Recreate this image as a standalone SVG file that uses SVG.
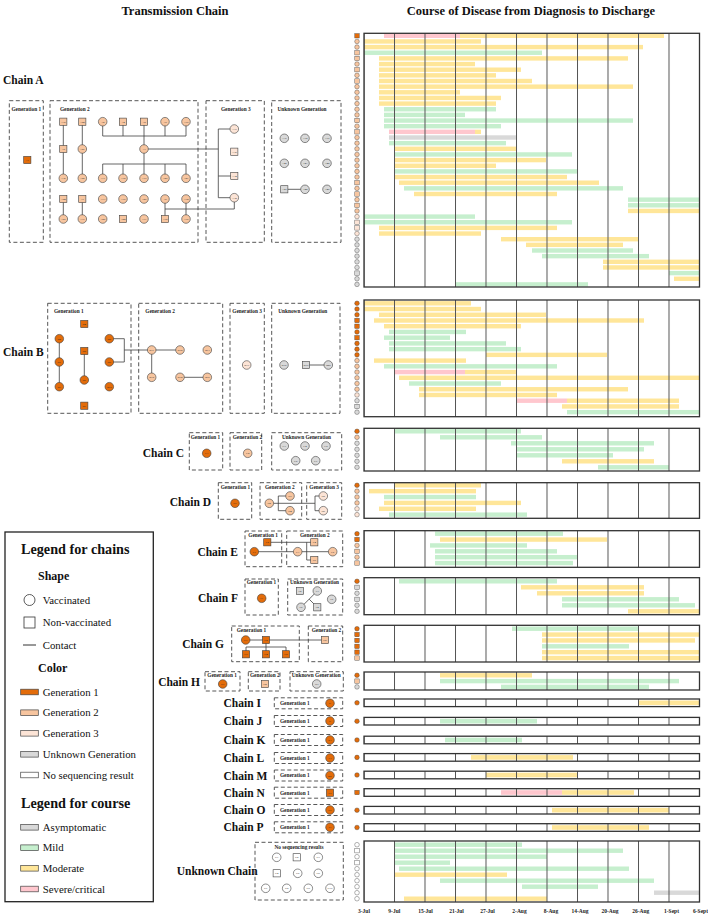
<svg xmlns="http://www.w3.org/2000/svg" xmlns:xlink="http://www.w3.org/1999/xlink" width="708" height="916" viewBox="0 0 708 916">
<style>
.t{font-family:"Liberation Serif","Times New Roman",serif;font-weight:bold;fill:#111}
.h{font-size:12.5px}
.ch{font-size:11.5px}
.gl{font-family:"Liberation Serif",serif;font-weight:bold;font-size:5.3px;fill:#222}
.nl{font-family:"Liberation Serif",serif;font-size:2.9px;text-anchor:middle;dominant-baseline:central;fill:#222;stroke:none}
.box{fill:none;stroke:#444;stroke-width:0.9;stroke-dasharray:4 2.5}
.c1{fill:#E36C0A}.c2{fill:#F7C59F}.c3{fill:#FCE4D6}.cu{fill:#D9D9D9}.cw{fill:#fff}
.n{stroke:#404040;stroke-width:0.6}
.ln{stroke:#404040;stroke-width:0.8;fill:none}
.pb{fill:#fff}
.pg{fill:url(#grid);stroke:#333;stroke-width:1.3}
.gm{fill:#C6EFCE}.ym{fill:#FFE699}.pk{fill:#FFC7CE}.as{fill:#D9D9D9}
.d{font-family:"Liberation Serif",serif;font-weight:bold;font-size:5.5px;text-anchor:middle;fill:#222}
.lg{font-family:"Liberation Serif",serif;font-size:10.8px;fill:#111}
.lt{font-family:"Liberation Serif",serif;font-weight:bold;font-size:14.2px;fill:#111}
.ls{font-family:"Liberation Serif",serif;font-weight:bold;font-size:12px;fill:#111}
.sw{stroke:#444;stroke-width:0.7}
</style>
<defs>
<pattern id="grid" x="363.5" y="0" width="30.5" height="10" patternUnits="userSpaceOnUse"><rect x="0" y="0" width="1" height="10" fill="#555"/></pattern>
<circle id="mc" r="2.3"/>
<rect id="ms" x="-2.2" y="-2.2" width="4.4" height="4.4"/>
</defs>

<text class="t h" x="175" y="15" text-anchor="middle">Transmission  Chain</text>
<text class="t h" x="531" y="15" text-anchor="middle">Course of Disease from Diagnosis to Discharge</text>

<!-- ============ LEFT: chain labels and boxes ============ -->
<g id="labels">
<text class="t ch" x="3" y="84">Chain A</text>
<text class="t ch" x="3" y="356">Chain B</text>
<text class="t ch" x="184" y="457" text-anchor="end">Chain C</text>
<text class="t ch" x="211" y="505.5" text-anchor="end">Chain D</text>
<text class="t ch" x="238" y="555.5" text-anchor="end">Chain E</text>
<text class="t ch" x="238" y="601.5" text-anchor="end">Chain F</text>
<text class="t ch" x="224" y="648" text-anchor="end">Chain G</text>
<text class="t ch" x="200" y="686" text-anchor="end">Chain H</text>
<text class="t ch" x="223.5" y="707">Chain I</text>
<text class="t ch" x="223.5" y="725">Chain J</text>
<text class="t ch" x="223.5" y="744">Chain K</text>
<text class="t ch" x="223.5" y="762">Chain L</text>
<text class="t ch" x="223.5" y="779.5">Chain M</text>
<text class="t ch" x="223.5" y="796.7">Chain N</text>
<text class="t ch" x="223.5" y="814">Chain O</text>
<text class="t ch" x="223.5" y="831.3">Chain P</text>
<text class="t ch" x="176.7" y="875">Unknown Chain</text>
</g>

<g id="boxes">
<rect class="box" x="9.3" y="100.7" width="34" height="141.6"/>
<rect class="box" x="50" y="100.7" width="148" height="141.6"/>
<rect class="box" x="206" y="100.7" width="58.3" height="141.6"/>
<rect class="box" x="271.7" y="100.7" width="69.3" height="141.6"/>
<text class="gl" x="11.5" y="110.5">Generation 1</text>
<text class="gl" x="60" y="110.5">Generation 2</text>
<text class="gl" x="221" y="110.5">Generation 3</text>
<text class="gl" x="277.5" y="110.5">Unknown Generation</text>

<rect class="box" x="47.7" y="303.3" width="83.3" height="110"/>
<rect class="box" x="138.7" y="303.3" width="84" height="110"/>
<rect class="box" x="230" y="303.3" width="34.3" height="110"/>
<rect class="box" x="271.7" y="303.3" width="68.3" height="110"/>
<text class="gl" x="54" y="312.5">Generation 1</text>
<text class="gl" x="145.3" y="312.5">Generation 2</text>
<text class="gl" x="232.3" y="312.5">Generation 3</text>
<text class="gl" x="278.3" y="312.5">Unknown Generation</text>

<rect class="box" x="189.3" y="432.7" width="33.4" height="37.3"/>
<rect class="box" x="230" y="432.7" width="31.7" height="37.3"/>
<rect class="box" x="271.7" y="432.7" width="70" height="37.3"/>
<text class="gl" x="190.7" y="438.5">Generation 1</text>
<text class="gl" x="232.7" y="438.5">Generation 2</text>
<text class="gl" x="282" y="438.5">Unknown Generation</text>

<rect class="box" x="218.3" y="482.7" width="33.4" height="36.6"/>
<rect class="box" x="260" y="482.7" width="41.7" height="36.6"/>
<rect class="box" x="306.7" y="482.7" width="35" height="36.6"/>
<text class="gl" x="220.7" y="488.5">Generation 1</text>
<text class="gl" x="265" y="488.5">Generation 2</text>
<text class="gl" x="309.3" y="488.5">Generation 3</text>

<rect class="box" x="245" y="531" width="36.7" height="35.7"/>
<rect class="box" x="286.7" y="531" width="56" height="35.7"/>
<text class="gl" x="248.3" y="536.5">Generation 1</text>
<text class="gl" x="300" y="536.5">Generation 2</text>

<rect class="box" x="245" y="579" width="33.3" height="36"/>
<rect class="box" x="287.7" y="579" width="55" height="36"/>
<text class="gl" x="246.7" y="584">Generation 1</text>
<text class="gl" x="290" y="584">Unknown Generation</text>

<rect class="box" x="231.7" y="626" width="67.6" height="35.7"/>
<rect class="box" x="308.3" y="626" width="34.4" height="35.7"/>
<text class="gl" x="236.7" y="631.5">Generation 1</text>
<text class="gl" x="311.7" y="631.5">Generation 2</text>

<rect class="box" x="205" y="671.7" width="35" height="19.3"/>
<rect class="box" x="248.3" y="671.7" width="31.7" height="19.3"/>
<rect class="box" x="290" y="671.7" width="53.3" height="19.3"/>
<text class="gl" x="207.3" y="676.5">Generation 1</text>
<text class="gl" x="250" y="676.5">Generation 2</text>
<text class="gl" x="291.7" y="676.5">Unknown Generation</text>

<rect class="box" x="274.3" y="697.8" width="68.4" height="11"/>
<rect class="box" x="274.3" y="715.5" width="68.4" height="11"/>
<rect class="box" x="274.3" y="734.5" width="68.4" height="11"/>
<rect class="box" x="274.3" y="752.5" width="68.4" height="11"/>
<rect class="box" x="274.3" y="770" width="68.4" height="11"/>
<rect class="box" x="274.3" y="787.2" width="68.4" height="11"/>
<rect class="box" x="274.3" y="804.5" width="68.4" height="11"/>
<rect class="box" x="274.3" y="821.8" width="68.4" height="11"/>
<text class="gl" x="280" y="705.2">Generation 1</text>
<text class="gl" x="280" y="722.9">Generation 1</text>
<text class="gl" x="280" y="741.9">Generation 1</text>
<text class="gl" x="280" y="759.9">Generation 1</text>
<text class="gl" x="280" y="777.4">Generation 1</text>
<text class="gl" x="280" y="794.6">Generation 1</text>
<text class="gl" x="280" y="811.9">Generation 1</text>
<text class="gl" x="280" y="829.2">Generation 1</text>

<rect class="box" x="255" y="842.3" width="88.3" height="57.7"/>
<text class="gl" x="299" y="849" text-anchor="middle">No sequencing results</text>
</g>

<!-- ============ connectors ============ -->
<g id="connectors" class="ln">
<path d="M63.3,121.7V178.3M82.3,121.7V178.3"/>
<path d="M102.7,121.7V136H186V121.7M123,121.7V136M144,121.7V149M165,121.7V136"/>
<path d="M144,149V178.3M102.7,178.3V164H186V178.3M123,164V178.3M165,164V178.3"/>
<path d="M144,149H218.3M218.3,129V197.7M218.3,129H234.3M218.3,176H234.3M218.3,197.7H234.3"/>
<path d="M63.3,199V219M82.3,199V219M165,199V219M186,199V219M165,209H234.3V197.7"/>
<path d="M284.3,189.3H305"/>
<path d="M59.3,338.7V386.7M84.3,351V380M109.3,338.7H124.3V362H109.3M124.3,350H151.7"/>
<path d="M151.7,350H180M151.7,350V377.3M180,377.3H207.3M306,365H328.3"/>
<path d="M269.3,503.3H315M278.3,496V510.7M278.3,496H290M278.3,510.7H290M315,496V510.7M315,496H323.3M315,510.7H323.3"/>
<path d="M254.3,551.7H332.7M267.3,542.3H314.3M306.7,542.3V560H314.3"/>
<path d="M317.3,591L301,607.3M309.2,599.2L317.3,607.3"/>
<path d="M245.7,640H325M266,640V654.3M246,654.3V647H286V654.3"/>
</g>

<!-- ============ nodes ============ -->
<g id="nodes" class="n">
<g id="A1"><rect class="c1" x="23.7" y="156.4" width="7.2" height="7.2"/><text class="nl" x="27.3" y="160">A1</text></g>
<g id="A16"><rect class="c2" x="59.7" y="118.1" width="7.2" height="7.2"/><text class="nl" x="63.3" y="121.7">A16</text></g>
<g id="A28"><rect class="c2" x="78.7" y="118.1" width="7.2" height="7.2"/><text class="nl" x="82.3" y="121.7">A28</text></g>
<g id="A2"><circle class="c2" cx="102.7" cy="121.7" r="4.3"/><text class="nl" x="102.7" y="121.7">A2</text></g>
<g id="A4"><rect class="c2" x="119.4" y="118.1" width="7.2" height="7.2"/><text class="nl" x="123" y="121.7">A4</text></g>
<g id="A8"><rect class="c2" x="140.4" y="118.1" width="7.2" height="7.2"/><text class="nl" x="144" y="121.7">A8</text></g>
<g id="A9"><circle class="c2" cx="165" cy="121.7" r="4.3"/><text class="nl" x="165" y="121.7">A9</text></g>
<g id="A10"><circle class="c2" cx="186" cy="121.7" r="4.3"/><text class="nl" x="186" y="121.7">A10</text></g>
<g id="A5"><rect class="c2" x="59.7" y="145.4" width="7.2" height="7.2"/><text class="nl" x="63.3" y="149">A5</text></g>
<g id="A21"><circle class="c2" cx="82.3" cy="149" r="4.3"/><text class="nl" x="82.3" y="149">A21</text></g>
<g id="A3"><circle class="c2" cx="144" cy="149" r="4.3"/><text class="nl" x="144" y="149">A3</text></g>
<g id="A36"><circle class="c2" cx="63.3" cy="178.3" r="4.3"/><text class="nl" x="63.3" y="178.3">A36</text></g>
<g id="A29"><circle class="c2" cx="82.3" cy="178.3" r="4.3"/><text class="nl" x="82.3" y="178.3">A29</text></g>
<g id="A11"><circle class="c2" cx="102.7" cy="178.3" r="4.3"/><text class="nl" x="102.7" y="178.3">A11</text></g>
<g id="A12"><circle class="c2" cx="123" cy="178.3" r="4.3"/><text class="nl" x="123" y="178.3">A12</text></g>
<g id="A19"><circle class="c2" cx="144" cy="178.3" r="4.3"/><text class="nl" x="144" y="178.3">A19</text></g>
<g id="A20"><circle class="c2" cx="165" cy="178.3" r="4.3"/><text class="nl" x="165" y="178.3">A20</text></g>
<g id="A27"><circle class="c2" cx="186" cy="178.3" r="4.3"/><text class="nl" x="186" y="178.3">A27</text></g>
<g id="A22"><rect class="c2" x="59.7" y="195.4" width="7.2" height="7.2"/><text class="nl" x="63.3" y="199">A22</text></g>
<g id="A7"><rect class="c2" x="78.7" y="195.4" width="7.2" height="7.2"/><text class="nl" x="82.3" y="199">A7</text></g>
<g id="A13"><circle class="c2" cx="102.7" cy="199" r="4.3"/><text class="nl" x="102.7" y="199">A13</text></g>
<g id="A15"><circle class="c2" cx="123" cy="199" r="4.3"/><text class="nl" x="123" y="199">A15</text></g>
<g id="A25"><circle class="c2" cx="144" cy="199" r="4.3"/><text class="nl" x="144" y="199">A25</text></g>
<g id="A6"><circle class="c2" cx="165" cy="199" r="4.3"/><text class="nl" x="165" y="199">A6</text></g>
<g id="A14"><circle class="c2" cx="186" cy="199" r="4.3"/><text class="nl" x="186" y="199">A14</text></g>
<g id="A23"><circle class="c2" cx="63.3" cy="219" r="4.3"/><text class="nl" x="63.3" y="219">A23</text></g>
<g id="A17"><circle class="c2" cx="82.3" cy="219" r="4.3"/><text class="nl" x="82.3" y="219">A17</text></g>
<g id="A26"><circle class="c2" cx="102.7" cy="219" r="4.3"/><text class="nl" x="102.7" y="219">A26</text></g>
<g id="A24"><rect class="c2" x="119.4" y="215.4" width="7.2" height="7.2"/><text class="nl" x="123" y="219">A24</text></g>
<g id="A31"><circle class="c2" cx="144" cy="219" r="4.3"/><text class="nl" x="144" y="219">A31</text></g>
<g id="A18"><rect class="c2" x="161.4" y="215.4" width="7.2" height="7.2"/><text class="nl" x="165" y="219">A18</text></g>
<g id="A30"><circle class="c2" cx="186" cy="219" r="4.3"/><text class="nl" x="186" y="219">A30</text></g>
<g id="A33"><circle class="c3" cx="234.3" cy="129" r="4.3"/><text class="nl" x="234.3" y="129">A33</text></g>
<g id="A35"><rect class="c3" x="230.7" y="148.1" width="7.2" height="7.2"/><text class="nl" x="234.3" y="151.7">A35</text></g>
<g id="A34"><rect class="c3" x="230.7" y="172.4" width="7.2" height="7.2"/><text class="nl" x="234.3" y="176">A34</text></g>
<g id="A32"><circle class="c3" cx="234.3" cy="197.7" r="4.3"/><text class="nl" x="234.3" y="197.7">A32</text></g>
<g id="A37"><circle class="cu" cx="284.3" cy="138.3" r="4.3"/><text class="nl" x="284.3" y="138.3">A37</text></g>
<g id="A38"><circle class="cu" cx="305" cy="138.3" r="4.3"/><text class="nl" x="305" y="138.3">A38</text></g>
<g id="A39"><circle class="cu" cx="327" cy="138.3" r="4.3"/><text class="nl" x="327" y="138.3">A39</text></g>
<g id="A40"><circle class="cu" cx="284.3" cy="163.3" r="4.3"/><text class="nl" x="284.3" y="163.3">A40</text></g>
<g id="A41"><circle class="cu" cx="305" cy="163.3" r="4.3"/><text class="nl" x="305" y="163.3">A41</text></g>
<g id="A42"><circle class="cu" cx="327" cy="163.3" r="4.3"/><text class="nl" x="327" y="163.3">A42</text></g>
<g id="A43"><rect class="cu" x="280.7" y="185.7" width="7.2" height="7.2"/><text class="nl" x="284.3" y="189.3">A43</text></g>
<g id="A44"><circle class="cu" cx="305" cy="189.3" r="4.3"/><text class="nl" x="305" y="189.3">A44</text></g>
<g id="A45"><circle class="cu" cx="327" cy="189.3" r="4.3"/><text class="nl" x="327" y="189.3">A45</text></g>

<g id="B2"><circle class="c1" cx="59.3" cy="338.7" r="4.3"/><text class="nl" x="59.3" y="338.7">B2</text></g>
<g id="B1"><circle class="c1" cx="59.3" cy="362" r="4.3"/><text class="nl" x="59.3" y="362">B1</text></g>
<g id="B3"><circle class="c1" cx="59.3" cy="386.7" r="4.3"/><text class="nl" x="59.3" y="386.7">B3</text></g>
<g id="B4"><rect class="c1" x="80.7" y="320.4" width="7.2" height="7.2"/><text class="nl" x="84.3" y="324">B4</text></g>
<g id="B5"><rect class="c1" x="80.7" y="347.4" width="7.2" height="7.2"/><text class="nl" x="84.3" y="351">B5</text></g>
<g id="B6"><circle class="c1" cx="84.3" cy="380" r="4.3"/><text class="nl" x="84.3" y="380">B6</text></g>
<g id="B7"><rect class="c1" x="80.7" y="402.1" width="7.2" height="7.2"/><text class="nl" x="84.3" y="405.7">B7</text></g>
<g id="B8"><circle class="c1" cx="109.3" cy="338.7" r="4.3"/><text class="nl" x="109.3" y="338.7">B8</text></g>
<g id="B9"><circle class="c1" cx="109.3" cy="362" r="4.3"/><text class="nl" x="109.3" y="362">B9</text></g>
<g id="B10"><circle class="c1" cx="109.3" cy="386.7" r="4.3"/><text class="nl" x="109.3" y="386.7">B10</text></g>
<g id="B11"><circle class="c2" cx="151.7" cy="350" r="4.3"/><text class="nl" x="151.7" y="350">B11</text></g>
<g id="B12"><circle class="c2" cx="180" cy="350" r="4.3"/><text class="nl" x="180" y="350">B12</text></g>
<g id="B13"><circle class="c2" cx="207.3" cy="350" r="4.3"/><text class="nl" x="207.3" y="350">B13</text></g>
<g id="B15"><circle class="c2" cx="151.7" cy="377.3" r="4.3"/><text class="nl" x="151.7" y="377.3">B15</text></g>
<g id="B14"><circle class="c2" cx="180" cy="377.3" r="4.3"/><text class="nl" x="180" y="377.3">B14</text></g>
<g id="B16"><circle class="c2" cx="207.3" cy="377.3" r="4.3"/><text class="nl" x="207.3" y="377.3">B16</text></g>
<g id="B17"><circle class="c3" cx="246.7" cy="365" r="4.3"/><text class="nl" x="246.7" y="365">B17</text></g>
<g id="B18"><circle class="cu" cx="284" cy="365" r="4.3"/><text class="nl" x="284" y="365">B18</text></g>
<g id="B19"><rect class="cu" x="302.4" y="361.4" width="7.2" height="7.2"/><text class="nl" x="306" y="365">B19</text></g>
<g id="B20"><circle class="cu" cx="328.3" cy="365" r="4.3"/><text class="nl" x="328.3" y="365">B20</text></g>

<g id="C1"><circle class="c1" cx="206.7" cy="453.3" r="4.3"/><text class="nl" x="206.7" y="453.3">C1</text></g>
<g id="C2"><circle class="c2" cx="247.7" cy="453.3" r="4.3"/><text class="nl" x="247.7" y="453.3">C2</text></g>
<g id="C3"><circle class="cu" cx="284.3" cy="446" r="4.3"/><text class="nl" x="284.3" y="446">C3</text></g>
<g id="C4"><circle class="cu" cx="305" cy="446" r="4.3"/><text class="nl" x="305" y="446">C4</text></g>
<g id="C5"><circle class="cu" cx="326" cy="446" r="4.3"/><text class="nl" x="326" y="446">C5</text></g>
<g id="C6"><circle class="cu" cx="295.7" cy="460.7" r="4.3"/><text class="nl" x="295.7" y="460.7">C6</text></g>
<g id="C7"><circle class="cu" cx="315.7" cy="460.7" r="4.3"/><text class="nl" x="315.7" y="460.7">C7</text></g>

<g id="D1"><circle class="c1" cx="235" cy="503.3" r="4.3"/><text class="nl" x="235" y="503.3">D1</text></g>
<g id="D2"><circle class="c2" cx="269.3" cy="503.3" r="4.3"/><text class="nl" x="269.3" y="503.3">D2</text></g>
<g id="D3"><circle class="c2" cx="290" cy="496" r="4.3"/><text class="nl" x="290" y="496">D3</text></g>
<g id="D4"><circle class="c2" cx="290" cy="510.7" r="4.3"/><text class="nl" x="290" y="510.7">D4</text></g>
<g id="D5"><circle class="c3" cx="323.3" cy="496" r="4.3"/><text class="nl" x="323.3" y="496">D5</text></g>
<g id="D6"><circle class="c3" cx="323.3" cy="510.7" r="4.3"/><text class="nl" x="323.3" y="510.7">D6</text></g>

<g id="E1"><circle class="c1" cx="254.3" cy="551.7" r="4.3"/><text class="nl" x="254.3" y="551.7">E1</text></g>
<g id="E2"><rect class="c1" x="263.7" y="538.7" width="7.2" height="7.2"/><text class="nl" x="267.3" y="542.3">E2</text></g>
<g id="E3"><circle class="c2" cx="297.7" cy="551.7" r="4.3"/><text class="nl" x="297.7" y="551.7">E3</text></g>
<g id="E4"><rect class="c2" x="310.7" y="538.7" width="7.2" height="7.2"/><text class="nl" x="314.3" y="542.3">E4</text></g>
<g id="E5"><circle class="c2" cx="332.7" cy="551.7" r="4.3"/><text class="nl" x="332.7" y="551.7">E5</text></g>
<g id="E6"><rect class="c2" x="310.7" y="556.4" width="7.2" height="7.2"/><text class="nl" x="314.3" y="560">E6</text></g>

<g id="F1"><circle class="c1" cx="261.7" cy="598.3" r="4.3"/><text class="nl" x="261.7" y="598.3">F1</text></g>
<g id="F2"><rect class="cu" x="296.4" y="587.4" width="7.2" height="7.2"/><text class="nl" x="300" y="591">F2</text></g>
<g id="F3"><circle class="cu" cx="317.3" cy="591" r="4.3"/><text class="nl" x="317.3" y="591">F3</text></g>
<g id="F4"><rect class="cu" x="313.7" y="603.7" width="7.2" height="7.2"/><text class="nl" x="317.3" y="607.3">F4</text></g>
<g id="F5"><circle class="cu" cx="301" cy="607.3" r="4.3"/><text class="nl" x="301" y="607.3">F5</text></g>
<g id="F6"><circle class="cu" cx="331.7" cy="599.3" r="4.3"/><text class="nl" x="331.7" y="599.3">F6</text></g>

<g id="G1"><circle class="c1" cx="245.7" cy="640" r="4.3"/><text class="nl" x="245.7" y="640">G1</text></g>
<g id="G2"><rect class="c1" x="262.4" y="636.4" width="7.2" height="7.2"/><text class="nl" x="266" y="640">G2</text></g>
<g id="G3"><rect class="c1" x="242.4" y="650.7" width="7.2" height="7.2"/><text class="nl" x="246" y="654.3">G3</text></g>
<g id="G4"><rect class="c1" x="262.4" y="650.7" width="7.2" height="7.2"/><text class="nl" x="266" y="654.3">G4</text></g>
<g id="G5"><rect class="c1" x="282.4" y="650.7" width="7.2" height="7.2"/><text class="nl" x="286" y="654.3">G5</text></g>
<g id="G6"><rect class="c2" x="321.4" y="636.4" width="7.2" height="7.2"/><text class="nl" x="325" y="640">G6</text></g>

<g id="H1"><circle class="c1" cx="222.7" cy="684" r="4.3"/><text class="nl" x="222.7" y="684">H1</text></g>
<g id="H2"><rect class="c2" x="261.4" y="680.4" width="7.2" height="7.2"/><text class="nl" x="265" y="684">H2</text></g>
<g id="H3"><circle class="cu" cx="316.7" cy="684" r="4.3"/><text class="nl" x="316.7" y="684">H3</text></g>

<g id="I1"><circle class="c1" cx="330" cy="703.3" r="4.3"/><text class="nl" x="330" y="703.3">I1</text></g>
<g id="J1"><circle class="c1" cx="330" cy="721" r="4.3"/><text class="nl" x="330" y="721">J1</text></g>
<g id="K1"><circle class="c1" cx="330" cy="740" r="4.3"/><text class="nl" x="330" y="740">K1</text></g>
<g id="L1"><circle class="c1" cx="330" cy="758" r="4.3"/><text class="nl" x="330" y="758">L1</text></g>
<g id="M1"><circle class="c1" cx="330" cy="775.5" r="4.3"/><text class="nl" x="330" y="775.5">M1</text></g>
<g id="N1"><rect class="c1" x="326.4" y="789.1" width="7.2" height="7.2"/><text class="nl" x="330" y="792.7">N1</text></g>
<g id="O1"><circle class="c1" cx="330" cy="810" r="4.3"/><text class="nl" x="330" y="810">O1</text></g>
<g id="P1"><circle class="c1" cx="330" cy="827.3" r="4.3"/><text class="nl" x="330" y="827.3">P1</text></g>

<g id="U1"><circle class="cw" cx="276.7" cy="857.3" r="4.3"/><text class="nl" x="276.7" y="857.3">U1</text></g>
<g id="U2"><rect class="cw" x="293.1" y="853.7" width="7.2" height="7.2"/><text class="nl" x="296.7" y="857.3">U2</text></g>
<g id="U3"><circle class="cw" cx="318.3" cy="857.3" r="4.3"/><text class="nl" x="318.3" y="857.3">U3</text></g>
<g id="U4"><rect class="cw" x="273.1" y="869.7" width="7.2" height="7.2"/><text class="nl" x="276.7" y="873.3">U4</text></g>
<g id="U5"><circle class="cw" cx="297.7" cy="873.3" r="4.3"/><text class="nl" x="297.7" y="873.3">U5</text></g>
<g id="U6"><circle class="cw" cx="318.3" cy="873.3" r="4.3"/><text class="nl" x="318.3" y="873.3">U6</text></g>
<g id="U7"><circle class="cw" cx="265.7" cy="888.3" r="4.3"/><text class="nl" x="265.7" y="888.3">U7</text></g>
<g id="U8"><circle class="cw" cx="286.7" cy="888.3" r="4.3"/><text class="nl" x="286.7" y="888.3">U8</text></g>
<g id="U9"><circle class="cw" cx="308.3" cy="888.3" r="4.3"/><text class="nl" x="308.3" y="888.3">U9</text></g>
<g id="U10"><circle class="cw" cx="330" cy="888.3" r="4.3"/><text class="nl" x="330" y="888.3">U10</text></g>
</g>

<!-- ============ legend ============ -->
<g id="legend">
<rect x="5" y="532" width="148.3" height="369.7" fill="#fff" stroke="#222" stroke-width="1.3"/>
<text class="lt" x="21" y="554">Legend for chains</text>
<text class="ls" x="38" y="580">Shape</text>
<circle cx="29.5" cy="600" r="5.5" fill="#fff" stroke="#333" stroke-width="0.8"/>
<text class="lg" x="42.7" y="604">Vaccinated</text>
<rect x="24" y="617" width="11" height="11" fill="#fff" stroke="#333" stroke-width="0.8"/>
<text class="lg" x="42.7" y="626">Non-vaccinated</text>
<path d="M23,645H36" stroke="#333" stroke-width="1"/>
<text class="lg" x="42.7" y="648.5">Contact</text>
<text class="ls" x="38" y="672">Color</text>
<rect class="sw c1" x="20.7" y="689.2" width="17.6" height="5.6"/>
<text class="lg" x="42.7" y="695.7">Generation 1</text>
<rect class="sw c2" x="20.7" y="709.9" width="17.6" height="5.6"/>
<text class="lg" x="42.7" y="716.4">Generation 2</text>
<rect class="sw c3" x="20.7" y="730.5" width="17.6" height="5.6"/>
<text class="lg" x="42.7" y="737">Generation 3</text>
<rect class="sw cu" x="20.7" y="751.5" width="17.6" height="5.6"/>
<text class="lg" x="42.7" y="758">Unknown Generation</text>
<rect class="sw cw" x="20.7" y="772.2" width="17.6" height="5.6"/>
<text class="lg" x="42.7" y="778.7">No sequencing result</text>
<text class="lt" x="21" y="808">Legend for course</text>
<rect class="sw as" x="20.7" y="824.5" width="17.6" height="5.6"/>
<text class="lg" x="42.7" y="831">Asymptomatic</text>
<rect class="sw gm" x="20.7" y="844.9" width="17.6" height="5.6"/>
<text class="lg" x="42.7" y="851.4">Mild</text>
<rect class="sw ym" x="20.7" y="865.5" width="17.6" height="5.6"/>
<text class="lg" x="42.7" y="872">Moderate</text>
<rect class="sw pk" x="20.7" y="886.2" width="17.6" height="5.6"/>
<text class="lg" x="42.7" y="892.7">Severe/critical</text>
</g>

<!-- ============ RIGHT: course panels ============ -->
<g id="course">
<!-- Chain A -->
<rect class="pb" x="364" y="33.3" width="335.5" height="253.7"/>
<g>
<rect class="pk" x="384" y="33.6" width="76" height="4.4"/><rect class="ym" x="460" y="33.6" width="204" height="4.4"/>
<rect class="ym" x="364" y="39.25" width="117" height="4.4"/>
<rect class="ym" x="364" y="44.9" width="279" height="4.4"/>
<rect class="gm" x="364" y="50.55" width="178" height="4.4"/>
<rect class="ym" x="379" y="56.2" width="249" height="4.4"/>
<rect class="ym" x="379" y="61.85" width="96" height="4.4"/>
<rect class="ym" x="379" y="67.5" width="142" height="4.4"/>
<rect class="ym" x="379" y="73.15" width="117" height="4.4"/>
<rect class="ym" x="379" y="78.8" width="153" height="4.4"/>
<rect class="ym" x="379" y="84.45" width="254" height="4.4"/>
<rect class="ym" x="379" y="90.1" width="81" height="4.4"/>
<rect class="ym" x="379" y="95.75" width="122" height="4.4"/>
<rect class="ym" x="379" y="101.4" width="117" height="4.4"/>
<rect class="gm" x="384" y="107.05" width="112" height="4.4"/>
<rect class="gm" x="384" y="112.7" width="81" height="4.4"/>
<rect class="gm" x="384" y="118.35" width="249" height="4.4"/>
<rect class="gm" x="384" y="124" width="117" height="4.4"/>
<rect class="pk" x="389" y="129.65" width="86" height="4.4"/><rect class="ym" x="475" y="129.65" width="6" height="4.4"/>
<rect class="as" x="389" y="135.3" width="127" height="4.4"/>
<rect class="gm" x="389" y="140.95" width="117" height="4.4"/>
<rect class="ym" x="394" y="146.6" width="122" height="4.4"/>
<rect class="gm" x="394" y="152.25" width="178" height="4.4"/>
<rect class="ym" x="394" y="157.9" width="152" height="4.4"/>
<rect class="ym" x="394" y="163.55" width="102" height="4.4"/>
<rect class="gm" x="394" y="169.2" width="183" height="4.4"/>
<rect class="ym" x="394" y="174.85" width="173" height="4.4"/>
<rect class="ym" x="399" y="180.5" width="200" height="4.4"/>
<rect class="gm" x="404" y="186.15" width="219" height="4.4"/>
<rect class="ym" x="414" y="191.8" width="143" height="4.4"/>
<rect class="gm" x="628" y="197.45" width="71.5" height="4.4"/>
<rect class="gm" x="628" y="203.1" width="71.5" height="4.4"/>
<rect class="ym" x="628" y="208.75" width="71.5" height="4.4"/>
<rect class="gm" x="364" y="214.4" width="111" height="4.4"/>
<rect class="gm" x="364" y="220.05" width="208" height="4.4"/>
<rect class="ym" x="379" y="225.7" width="178" height="4.4"/>
<rect class="ym" x="379" y="231.35" width="102" height="4.4"/>
<rect class="ym" x="501" y="237" width="137" height="4.4"/>
<rect class="ym" x="526" y="242.65" width="97" height="4.4"/>
<rect class="gm" x="532" y="248.3" width="101" height="4.4"/>
<rect class="gm" x="542" y="253.95" width="107" height="4.4"/>
<rect class="ym" x="603" y="259.6" width="96.5" height="4.4"/>
<rect class="ym" x="603" y="265.25" width="96.5" height="4.4"/>
<rect class="gm" x="669" y="270.9" width="30.5" height="4.4"/>
<rect class="ym" x="674" y="276.55" width="25.5" height="4.4"/>
<rect class="gm" x="455" y="282.2" width="133" height="4.4"/>
</g>
<rect class="pg" x="364" y="33.3" width="335.5" height="253.7"/>

<!-- Chain B -->
<rect class="pb" x="364" y="300" width="335.5" height="116.7"/>
<g>
<rect class="ym" x="364" y="301.1" width="107" height="4.4"/>
<rect class="ym" x="364" y="306.83" width="117" height="4.4"/>
<rect class="ym" x="379" y="312.56" width="167" height="4.4"/>
<rect class="ym" x="374" y="318.29" width="270" height="4.4"/>
<rect class="ym" x="384" y="324.02" width="137" height="4.4"/>
<rect class="gm" x="389" y="329.75" width="77" height="4.4"/>
<rect class="gm" x="384" y="335.48" width="66" height="4.4"/>
<rect class="gm" x="389" y="341.21" width="117" height="4.4"/>
<rect class="gm" x="389" y="346.94" width="132" height="4.4"/>
<rect class="ym" x="486" y="352.67" width="121" height="4.4"/>
<rect class="ym" x="374" y="358.4" width="92" height="4.4"/>
<rect class="gm" x="384" y="364.13" width="173" height="4.4"/>
<rect class="pk" x="394" y="369.86" width="71" height="4.4"/><rect class="ym" x="465" y="369.86" width="51" height="4.4"/>
<rect class="ym" x="399" y="375.59" width="300.5" height="4.4"/>
<rect class="gm" x="409" y="381.32" width="92" height="4.4"/>
<rect class="ym" x="419" y="387.05" width="209" height="4.4"/>
<rect class="ym" x="419" y="392.78" width="138" height="4.4"/>
<rect class="pk" x="516" y="398.51" width="51" height="4.4"/><rect class="ym" x="567" y="398.51" width="112" height="4.4"/>
<rect class="ym" x="562" y="404.24" width="117" height="4.4"/>
<rect class="gm" x="567" y="409.97" width="132.5" height="4.4"/>
</g>
<rect class="pg" x="364" y="300" width="335.5" height="116.7"/>

<!-- Chain C -->
<rect class="pb" x="364" y="428.3" width="335.5" height="42.7"/>
<g>
<rect class="gm" x="394" y="429.1" width="127" height="4.4"/>
<rect class="gm" x="440" y="435.1" width="102" height="4.4"/>
<rect class="gm" x="511" y="441.1" width="143" height="4.4"/>
<rect class="gm" x="516" y="447.1" width="128" height="4.4"/>
<rect class="gm" x="516" y="453.1" width="97" height="4.4"/>
<rect class="ym" x="562" y="459.1" width="92" height="4.4"/>
<rect class="gm" x="598" y="465.1" width="71" height="4.4"/>
</g>
<rect class="pg" x="364" y="428.3" width="335.5" height="42.7"/>

<!-- Chain D -->
<rect class="pb" x="364" y="482.7" width="335.5" height="35.6"/>
<g>
<rect class="ym" x="394" y="483.1" width="87" height="4.4"/>
<rect class="ym" x="369" y="488.97" width="107" height="4.4"/>
<rect class="gm" x="384" y="494.84" width="92" height="4.4"/>
<rect class="ym" x="384" y="500.71" width="137" height="4.4"/>
<rect class="ym" x="379" y="506.58" width="97" height="4.4"/>
<rect class="gm" x="389" y="512.45" width="138" height="4.4"/>
</g>
<rect class="pg" x="364" y="482.7" width="335.5" height="35.6"/>

<!-- Chain E -->
<rect class="pb" x="364" y="530.7" width="335.5" height="36.6"/>
<g>
<rect class="gm" x="435" y="531.5" width="128" height="4.4"/>
<rect class="ym" x="440" y="537.37" width="167" height="4.4"/>
<rect class="gm" x="430" y="543.24" width="97" height="4.4"/>
<rect class="gm" x="435" y="549.11" width="122" height="4.4"/>
<rect class="gm" x="435" y="554.98" width="142" height="4.4"/>
<rect class="gm" x="435" y="560.85" width="138" height="4.4"/>
</g>
<rect class="pg" x="364" y="530.7" width="335.5" height="36.6"/>

<!-- Chain F -->
<rect class="pb" x="364" y="577.7" width="335.5" height="37"/>
<g>
<rect class="gm" x="399" y="579.1" width="158" height="4.4"/>
<rect class="ym" x="521" y="585.1" width="123" height="4.4"/>
<rect class="ym" x="537" y="591.1" width="107" height="4.4"/>
<rect class="gm" x="562" y="597.1" width="117" height="4.4"/>
<rect class="gm" x="562" y="603.1" width="133" height="4.4"/>
<rect class="ym" x="628" y="609.1" width="71.5" height="4.4"/>
</g>
<rect class="pg" x="364" y="577.7" width="335.5" height="37"/>

<!-- Chain G -->
<rect class="pb" x="364" y="625.3" width="335.5" height="36.7"/>
<g>
<rect class="gm" x="512" y="626.5" width="127" height="4.4"/>
<rect class="ym" x="542" y="632.37" width="157.5" height="4.4"/>
<rect class="ym" x="542" y="638.24" width="153" height="4.4"/>
<rect class="gm" x="542" y="644.11" width="87" height="4.4"/>
<rect class="ym" x="542" y="649.98" width="157.5" height="4.4"/>
<rect class="ym" x="542" y="655.85" width="157.5" height="4.4"/>
</g>
<rect class="pg" x="364" y="625.3" width="335.5" height="36.7"/>

<!-- Chain H -->
<rect class="pb" x="364" y="672" width="335.5" height="18"/>
<g>
<rect class="ym" x="440" y="673.1" width="92" height="4.4"/>
<rect class="gm" x="440" y="678.9" width="239" height="4.4"/>
<rect class="gm" x="501" y="684.7" width="148" height="4.4"/>
</g>
<rect class="pg" x="364" y="672" width="335.5" height="18"/>

<!-- Chains I-P -->
<rect class="pb" x="364" y="699" width="335.5" height="7.6"/>
<rect class="ym" x="639" y="700.5" width="60.5" height="4.6"/>
<rect class="pg" x="364" y="699" width="335.5" height="7.6"/>

<rect class="pb" x="364" y="717.4" width="335.5" height="7.6"/>
<rect class="gm" x="440" y="718.9" width="97" height="4.6"/>
<rect class="pg" x="364" y="717.4" width="335.5" height="7.6"/>

<rect class="pb" x="364" y="736.2" width="335.5" height="7.6"/>
<rect class="gm" x="445" y="737.7" width="77" height="4.6"/>
<rect class="pg" x="364" y="736.2" width="335.5" height="7.6"/>

<rect class="pb" x="364" y="753.6" width="335.5" height="7.6"/>
<rect class="ym" x="471" y="755.1" width="102" height="4.6"/>
<rect class="pg" x="364" y="753.6" width="335.5" height="7.6"/>

<rect class="pb" x="364" y="771.2" width="335.5" height="7.6"/>
<rect class="ym" x="486" y="772.7" width="92" height="4.6"/>
<rect class="pg" x="364" y="771.2" width="335.5" height="7.6"/>

<rect class="pb" x="364" y="788.7" width="335.5" height="7.6"/>
<rect class="pk" x="501" y="790.2" width="61" height="4.6"/><rect class="ym" x="562" y="790.2" width="72" height="4.6"/>
<rect class="pg" x="364" y="788.7" width="335.5" height="7.6"/>

<rect class="pb" x="364" y="806.4" width="335.5" height="7.6"/>
<rect class="ym" x="552" y="807.9" width="117" height="4.6"/>
<rect class="pg" x="364" y="806.4" width="335.5" height="7.6"/>

<rect class="pb" x="364" y="823.7" width="335.5" height="7.6"/>
<rect class="ym" x="552" y="825.2" width="97" height="4.6"/>
<rect class="pg" x="364" y="823.7" width="335.5" height="7.6"/>

<!-- Unknown chain -->
<rect class="pb" x="364" y="841" width="335.5" height="61"/>
<g>
<rect class="gm" x="394" y="842.5" width="128" height="4.4"/>
<rect class="gm" x="394" y="848.5" width="229" height="4.4"/>
<rect class="gm" x="394" y="854.5" width="153" height="4.4"/>
<rect class="gm" x="394" y="860.5" width="56" height="4.4"/>
<rect class="gm" x="399" y="866.5" width="230" height="4.4"/>
<rect class="ym" x="394" y="872.5" width="113" height="4.4"/>
<rect class="gm" x="440" y="878.5" width="214" height="4.4"/>
<rect class="gm" x="522" y="884.5" width="76" height="4.4"/>
<rect class="as" x="654" y="890.5" width="45.5" height="4.4"/>
<rect class="ym" x="404" y="896.5" width="143" height="4.4"/>
</g>
<rect class="pg" x="364" y="841" width="335.5" height="61"/>
</g>

<!-- row markers -->
<g id="markers" class="n" style="stroke-width:0.4">
<use href="#ms" x="357" y="35.8" class="c1"/>
<use href="#mc" x="357" y="41.45" class="c2"/>
<use href="#mc" x="357" y="47.1" class="c2"/>
<use href="#ms" x="357" y="52.75" class="c2"/>
<use href="#ms" x="357" y="58.4" class="c2"/>
<use href="#mc" x="357" y="64.05" class="c2"/>
<use href="#ms" x="357" y="69.7" class="c2"/>
<use href="#mc" x="357" y="75.35" class="c2"/>
<use href="#ms" x="357" y="81" class="c2"/>
<use href="#mc" x="357" y="86.65" class="c2"/>
<use href="#mc" x="357" y="92.3" class="c2"/>
<use href="#mc" x="357" y="97.95" class="c2"/>
<use href="#mc" x="357" y="103.6" class="c2"/>
<use href="#mc" x="357" y="109.25" class="c2"/>
<use href="#mc" x="357" y="114.9" class="c2"/>
<use href="#ms" x="357" y="120.55" class="c2"/>
<use href="#mc" x="357" y="126.2" class="c2"/>
<use href="#ms" x="357" y="131.85" class="c2"/>
<use href="#mc" x="357" y="137.5" class="c2"/>
<use href="#mc" x="357" y="143.15" class="c2"/>
<use href="#mc" x="357" y="148.8" class="c2"/>
<use href="#mc" x="357" y="154.45" class="c2"/>
<use href="#mc" x="357" y="160.1" class="c2"/>
<use href="#mc" x="357" y="165.75" class="c2"/>
<use href="#mc" x="357" y="171.4" class="c2"/>
<use href="#mc" x="357" y="177.05" class="c2"/>
<use href="#ms" x="357" y="182.7" class="c2"/>
<use href="#mc" x="357" y="188.35" class="c2"/>
<use href="#ms" x="357" y="194" class="c2"/>
<use href="#mc" x="357" y="199.65" class="c2"/>
<use href="#ms" x="357" y="205.3" class="c2"/>
<use href="#mc" x="357" y="210.95" class="c2"/>
<use href="#mc" x="357" y="216.6" class="c3"/>
<use href="#ms" x="357" y="222.25" class="c3"/>
<use href="#ms" x="357" y="227.9" class="c3"/>
<use href="#mc" x="357" y="233.55" class="c3"/>
<use href="#mc" x="357" y="239.2" class="cu"/>
<use href="#mc" x="357" y="244.85" class="cu"/>
<use href="#mc" x="357" y="250.5" class="cu"/>
<use href="#mc" x="357" y="256.15" class="cu"/>
<use href="#mc" x="357" y="261.8" class="cu"/>
<use href="#mc" x="357" y="267.45" class="cu"/>
<use href="#ms" x="357" y="273.1" class="cu"/>
<use href="#mc" x="357" y="278.75" class="cu"/>
<use href="#mc" x="357" y="284.4" class="cu"/>

<use href="#mc" x="357" y="303.3" class="c1"/>
<use href="#mc" x="357" y="309.03" class="c1"/>
<use href="#mc" x="357" y="314.76" class="c1"/>
<use href="#ms" x="357" y="320.49" class="c1"/>
<use href="#ms" x="357" y="326.22" class="c1"/>
<use href="#mc" x="357" y="331.95" class="c1"/>
<use href="#ms" x="357" y="337.68" class="c1"/>
<use href="#mc" x="357" y="343.41" class="c1"/>
<use href="#mc" x="357" y="349.14" class="c1"/>
<use href="#mc" x="357" y="354.87" class="c1"/>
<use href="#mc" x="357" y="360.6" class="c2"/>
<use href="#mc" x="357" y="366.33" class="c2"/>
<use href="#mc" x="357" y="372.06" class="c2"/>
<use href="#mc" x="357" y="377.79" class="c2"/>
<use href="#mc" x="357" y="383.52" class="c2"/>
<use href="#mc" x="357" y="389.25" class="c2"/>
<use href="#mc" x="357" y="394.98" class="c3"/>
<use href="#mc" x="357" y="400.71" class="cu"/>
<use href="#ms" x="357" y="406.44" class="cu"/>
<use href="#mc" x="357" y="412.17" class="cu"/>

<use href="#mc" x="357" y="431.3" class="c1"/>
<use href="#mc" x="357" y="437.3" class="c2"/>
<use href="#mc" x="357" y="443.3" class="cu"/>
<use href="#mc" x="357" y="449.3" class="cu"/>
<use href="#mc" x="357" y="455.3" class="cu"/>
<use href="#mc" x="357" y="461.3" class="cu"/>
<use href="#mc" x="357" y="467.3" class="cu"/>

<use href="#mc" x="357" y="485.3" class="c1"/>
<use href="#mc" x="357" y="491.17" class="c2"/>
<use href="#mc" x="357" y="497.04" class="c2"/>
<use href="#mc" x="357" y="502.91" class="c2"/>
<use href="#mc" x="357" y="508.78" class="c3"/>
<use href="#mc" x="357" y="514.65" class="c3"/>

<use href="#mc" x="357" y="533.7" class="c1"/>
<use href="#ms" x="357" y="539.57" class="c1"/>
<use href="#mc" x="357" y="545.44" class="c2"/>
<use href="#ms" x="357" y="551.31" class="c2"/>
<use href="#mc" x="357" y="557.18" class="c2"/>
<use href="#ms" x="357" y="563.05" class="c2"/>

<use href="#mc" x="357" y="581.3" class="c1"/>
<use href="#ms" x="357" y="587.3" class="cu"/>
<use href="#mc" x="357" y="593.3" class="cu"/>
<use href="#ms" x="357" y="599.3" class="cu"/>
<use href="#mc" x="357" y="605.3" class="cu"/>
<use href="#mc" x="357" y="611.3" class="cu"/>

<use href="#mc" x="357" y="628.7" class="c1"/>
<use href="#ms" x="357" y="634.57" class="c1"/>
<use href="#ms" x="357" y="640.44" class="c1"/>
<use href="#ms" x="357" y="646.31" class="c1"/>
<use href="#ms" x="357" y="652.18" class="c1"/>
<use href="#ms" x="357" y="658.05" class="c2"/>

<use href="#mc" x="357" y="675.3" class="c1"/>
<use href="#ms" x="357" y="681.1" class="c2"/>
<use href="#mc" x="357" y="686.9" class="cu"/>

<use href="#mc" x="357" y="702.8" class="c1"/>
<use href="#mc" x="357" y="721.2" class="c1"/>
<use href="#mc" x="357" y="740" class="c1"/>
<use href="#mc" x="357" y="757.4" class="c1"/>
<use href="#mc" x="357" y="775" class="c1"/>
<use href="#ms" x="357" y="792.5" class="c1"/>
<use href="#mc" x="357" y="810.2" class="c1"/>
<use href="#mc" x="357" y="827.5" class="c1"/>

<use href="#mc" x="357" y="844.7" class="cw"/>
<use href="#ms" x="357" y="850.7" class="cw"/>
<use href="#mc" x="357" y="856.7" class="cw"/>
<use href="#ms" x="357" y="862.7" class="cw"/>
<use href="#mc" x="357" y="868.7" class="cw"/>
<use href="#mc" x="357" y="874.7" class="cw"/>
<use href="#mc" x="357" y="880.7" class="cw"/>
<use href="#mc" x="357" y="886.7" class="cw"/>
<use href="#mc" x="357" y="892.7" class="cw"/>
<use href="#mc" x="357" y="898.7" class="cw"/>
</g>

<!-- date axis -->
<g id="dates">
<text class="d" x="364" y="912.5">3-Jul</text>
<text class="d" x="394.3" y="912.5">9-Jul</text>
<text class="d" x="425.5" y="912.5">15-Jul</text>
<text class="d" x="456.5" y="912.5">21-Jul</text>
<text class="d" x="487.5" y="912.5">27-Jul</text>
<text class="d" x="519.5" y="912.5">2-Aug</text>
<text class="d" x="551" y="912.5">8-Aug</text>
<text class="d" x="580" y="912.5">14-Aug</text>
<text class="d" x="610" y="912.5">20-Aug</text>
<text class="d" x="640.8" y="912.5">26-Aug</text>
<text class="d" x="671.5" y="912.5">1-Sept</text>
<text class="d" x="700.5" y="912.5">6-Sept</text>
</g>
</svg>
